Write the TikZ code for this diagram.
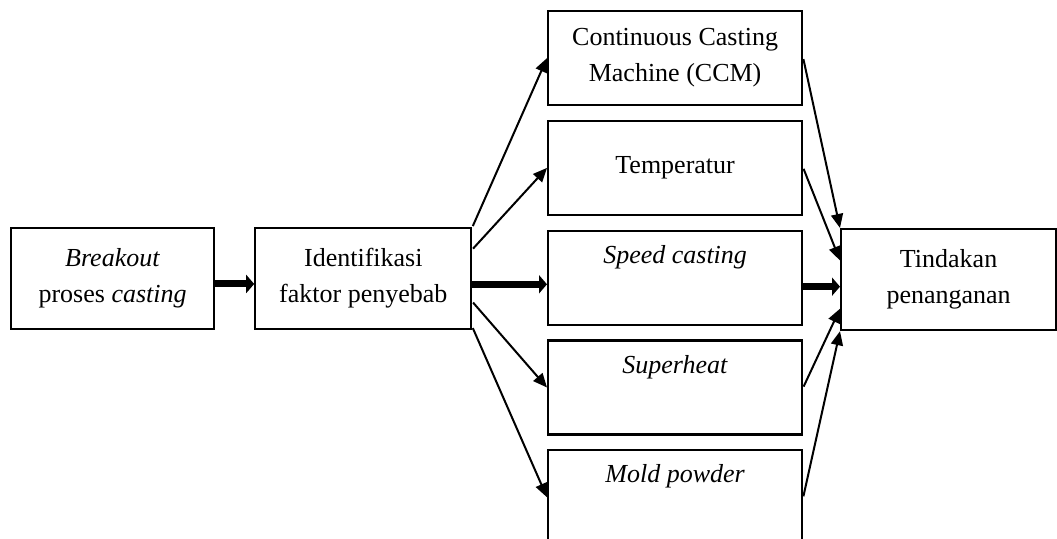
\documentclass[tikz,border=0pt]{standalone}
\usepackage{fontspec}
\setmainfont{Liberation Serif}
\usepackage{tikz}
\usetikzlibrary{
  arrows.meta,
  positioning
}
\newcommand{\blank}{\strut}

\begin{document}
\begin{tikzpicture}[
  x=0.5pt, y=-0.5pt,
  box/.style={draw, line width=1.1pt, align=center, inner sep=0pt,
    font=\fontsize{13}{18}\selectfont},
  lbox/.style={box, minimum width=101.5pt, minimum height=50.5pt},
  fbox/.style={box, minimum width=127pt, minimum height=47pt},
  arr/.style={-{Triangle[length=7pt, width=6pt]}, line width=1pt, shorten <=0.5pt},
  bigarr/.style={-{Triangle[length=4pt, width=9pt]}, line width=3.5pt},
]
  \useasboundingbox (0,0) rectangle (1057,539);

  % Left side
  \node[lbox, anchor=north west] (breakout) at (10,227)
    {\textit{Breakout}\\proses \textit{casting}};
  \node[lbox, minimum width=108pt, right=19.5pt of breakout] (ident)
    {Identifikasi\\faktor penyebab};

  % Factors
  \node[fbox, anchor=north west] (ccm) at (547,10)
    {Continuous Casting\\Machine (CCM)};
  \node[fbox, below=6.8pt of ccm] (temp) {Temperatur};
  \node[fbox, below=6.8pt of temp] (speed) {\textit{Speed casting}\\\blank};
  \node[fbox, below=6.8pt of speed] (superheat) {\textit{Superheat}\\\blank};
  \node[fbox, below=6.8pt of superheat] (mold) {\textit{Mold powder}\\\blank};

  % Result
  \node[lbox, minimum width=107.5pt, anchor=north west] (tind) at (840,228)
    {Tindakan\\penanganan};

  % Arrows
  \draw[bigarr] (breakout.-3) -- (breakout.-3 -| ident.west);
  \draw[arr] (ident.north east) -- (ccm.west);
  \draw[arr] (ident.15) -- (temp.west);
  \draw[bigarr] (ident.-3) -- (ident.-3 -| speed.west);
  \draw[arr] (ident.-12) -- (superheat.west);
  \draw[arr] (ident.-24) -- (mold.west);

  \draw[arr] (ccm.east) -- (tind.north west);
  \draw[arr] (temp.east) -- (tind.170);
  \draw[bigarr] (speed.-4) -- (speed.-4 -| tind.west);
  \draw[arr] (superheat.east) -- (tind.195);
  \draw[arr] (mold.east) -- (tind.south west);
\end{tikzpicture}
\end{document}
